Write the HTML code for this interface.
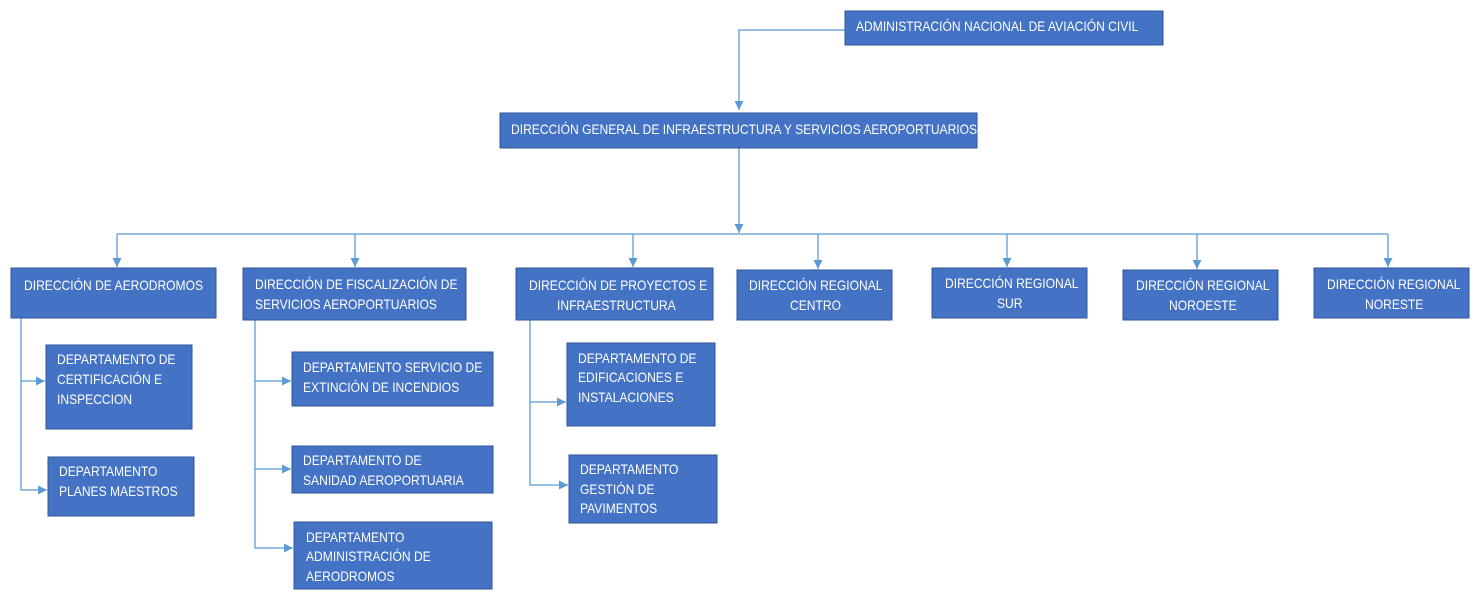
<!DOCTYPE html>
<html><head><meta charset="utf-8"><style>
html,body{margin:0;padding:0;background:#fff;}
svg{display:block}
text{font-family:"Liberation Sans",sans-serif;font-size:13.5px;fill:#fff;}
rect{fill:#4472C4;stroke:#2F5597;stroke-width:1}
.l{stroke:#5B9BD5;stroke-width:1.3;fill:none}
</style></head><body>
<svg width="1480" height="598" viewBox="0 0 1480 598" xmlns="http://www.w3.org/2000/svg">
<defs><marker id="a" viewBox="0 0 10 10" refX="10" refY="5" markerWidth="7" markerHeight="7" orient="auto"><path d="M0,0L10,5L0,10z" fill="#5B9BD5"/></marker></defs>
<polyline class="l" points="845,30 739,30 739,110" marker-end="url(#a)"/>
<polyline class="l" points="739,148 739,233" marker-end="url(#a)"/>
<line class="l" x1="117" y1="234" x2="1388" y2="234"/>
<g>
<line class="l" x1="117" y1="234" x2="117" y2="267" marker-end="url(#a)"/>
<line class="l" x1="355" y1="234" x2="355" y2="267" marker-end="url(#a)"/>
<line class="l" x1="633" y1="234" x2="633" y2="267" marker-end="url(#a)"/>
<line class="l" x1="818" y1="234" x2="818" y2="269" marker-end="url(#a)"/>
<line class="l" x1="1007" y1="234" x2="1007" y2="267" marker-end="url(#a)"/>
<line class="l" x1="1197" y1="234" x2="1197" y2="269" marker-end="url(#a)"/>
<line class="l" x1="1388" y1="234" x2="1388" y2="267" marker-end="url(#a)"/>
</g>
<polyline class="l" points="21,318 21,490 47,490" marker-end="url(#a)"/>
<line class="l" x1="21" y1="381" x2="45" y2="381" marker-end="url(#a)"/>
<polyline class="l" points="255,320 255,548 293,548" marker-end="url(#a)"/>
<line class="l" x1="255" y1="381" x2="291" y2="381" marker-end="url(#a)"/>
<line class="l" x1="255" y1="469" x2="291" y2="469" marker-end="url(#a)"/>
<polyline class="l" points="530,320 530,485 568,485" marker-end="url(#a)"/>
<line class="l" x1="530" y1="402" x2="566" y2="402" marker-end="url(#a)"/>
<rect x="845" y="11" width="318" height="34"/>
<rect x="500" y="113" width="477" height="35"/>
<rect x="11" y="268" width="205" height="50"/>
<rect x="243" y="268" width="223" height="52"/>
<rect x="516" y="268" width="197" height="52"/>
<rect x="737" y="270" width="155" height="50"/>
<rect x="932" y="268" width="155" height="50"/>
<rect x="1123" y="270" width="155" height="50"/>
<rect x="1314" y="268" width="155" height="50"/>
<rect x="46" y="345" width="146" height="84"/>
<rect x="48" y="457" width="146" height="59"/>
<rect x="292" y="352" width="201" height="54"/>
<rect x="292" y="446" width="201" height="47"/>
<rect x="294" y="522" width="198" height="67"/>
<rect x="567" y="343" width="148" height="83"/>
<rect x="569" y="455" width="148" height="68"/>
<g id="t">
<text x="856" y="31">ADMINISTRACIÓN NACIONAL DE AVIACIÓN CIVIL</text>
<text x="511" y="134">DIRECCIÓN GENERAL DE INFRAESTRUCTURA Y SERVICIOS AEROPORTUARIOS</text>
<text x="24" y="290">DIRECCIÓN DE AERODROMOS</text>
<text x="255" y="289">DIRECCIÓN DE FISCALIZACIÓN DE</text>
<text x="255" y="309">SERVICIOS AEROPORTUARIOS</text>
<text x="529" y="290">DIRECCIÓN DE PROYECTOS E</text>
<text x="557" y="310">INFRAESTRUCTURA</text>
<text x="749" y="290">DIRECCIÓN REGIONAL</text>
<text x="790" y="310">CENTRO</text>
<text x="945" y="288">DIRECCIÓN REGIONAL</text>
<text x="997" y="308">SUR</text>
<text x="1136" y="290">DIRECCIÓN REGIONAL</text>
<text x="1169" y="310">NOROESTE</text>
<text x="1327" y="289">DIRECCIÓN REGIONAL</text>
<text x="1365" y="309">NORESTE</text>
<text x="57" y="364">DEPARTAMENTO DE</text>
<text x="57" y="384">CERTIFICACIÓN E</text>
<text x="57" y="404">INSPECCION</text>
<text x="59" y="476">DEPARTAMENTO</text>
<text x="59" y="496">PLANES MAESTROS</text>
<text x="303" y="372">DEPARTAMENTO SERVICIO DE</text>
<text x="303" y="392">EXTINCIÓN DE INCENDIOS</text>
<text x="303" y="465">DEPARTAMENTO DE</text>
<text x="303" y="485">SANIDAD AEROPORTUARIA</text>
<text x="306" y="542">DEPARTAMENTO</text>
<text x="306" y="561">ADMINISTRACIÓN DE</text>
<text x="306" y="581">AERODROMOS</text>
<text x="578" y="363">DEPARTAMENTO DE</text>
<text x="578" y="382">EDIFICACIONES E</text>
<text x="578" y="402">INSTALACIONES</text>
<text x="580" y="474">DEPARTAMENTO</text>
<text x="580" y="494">GESTIÓN DE</text>
<text x="580" y="513">PAVIMENTOS</text>
</g>
</svg>
<script>
var s=0.895;
document.querySelectorAll('#t text').forEach(function(t){
 var x=+t.getAttribute('x'),y=+t.getAttribute('y');
 t.setAttribute('x',0);t.setAttribute('y',0);
 t.setAttribute('transform','translate('+x+','+y+') scale('+s+',1)');
});
</script>
</body></html>
